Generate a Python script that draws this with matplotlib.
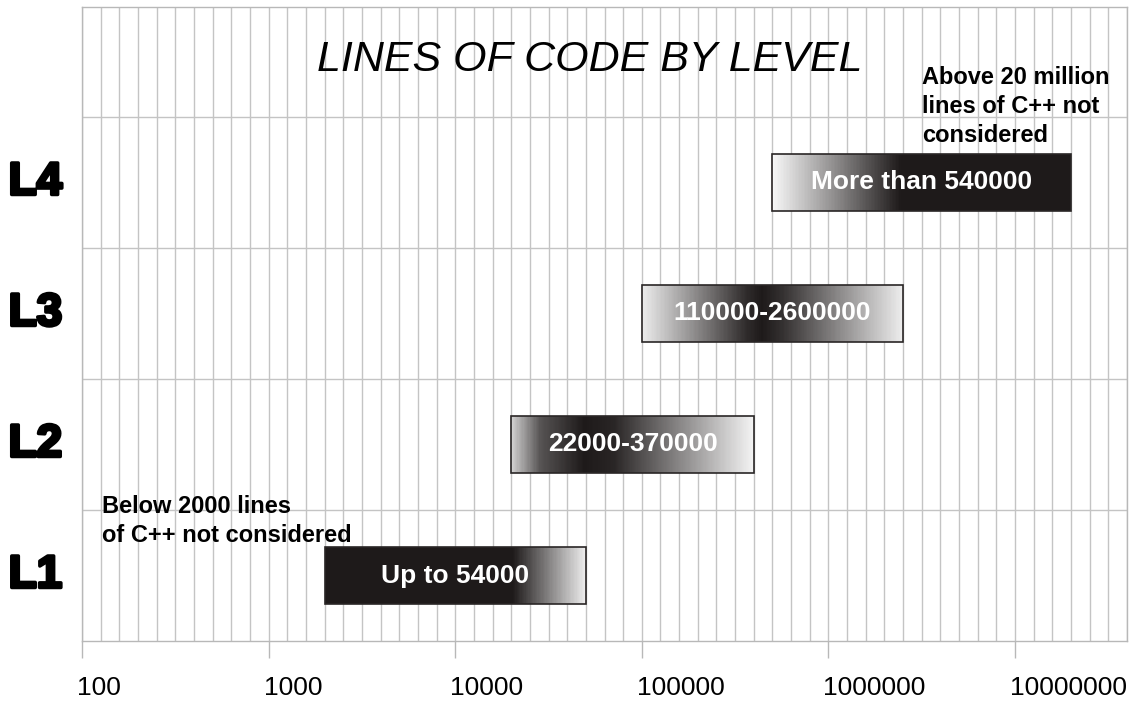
import numpy as np
import matplotlib
matplotlib.use("Agg")
import matplotlib.pyplot as plt
from matplotlib.colors import LinearSegmentedColormap
from matplotlib import transforms
import matplotlib.patheffects as pe

# ---- data ----
levels = ["L1", "L2", "L3", "L4"]
range_start = [2000, 20000, 100000, 500000]
range_end = [50000, 400000, 2500000, 20000000]
bar_labels = ["Up to 54000", "22000-370000", "110000-2600000", "More than 540000"]
tick_values = [100, 1000, 10000, 100000, 1000000, 10000000]
tick_labels = ["100", "1000", "10000", "100000", "1000000", "10000000"]
title = "LINES OF CODE BY LEVEL"
note_low = "Below 2000 lines\nof C++ not considered"
note_high = "Above 20 million\nlines of C++ not\nconsidered"

# gradient profiles (fraction along bar -> lightness 0 dark .. 1 white)
profiles = [
    ([0.0, 0.72, 1.0], [0.0, 0.0, 0.92]),
    ([0.0, 0.12, 0.30, 0.42, 1.0], [0.80, 0.25, 0.0, 0.05, 0.95]),
    ([0.0, 0.40, 0.46, 0.54, 1.0], [0.92, 0.08, 0.0, 0.10, 0.92]),
    ([0.0, 0.43, 1.0], [0.97, 0.0, 0.0]),
]

W, H = 1138, 702
fig = plt.figure(figsize=(W / 100, H / 100), dpi=100)
ax = fig.add_axes([82 / W, (H - 641) / H, (1127 - 82) / W, (641 - 7) / H])
ax.set_xscale("log")
ax.set_xlim(10 ** 2, 10 ** 7.6)
ax.set_ylim(0, 4 + 110 / 131)

grid_c = "#c4c4c4"
ax.set_xticks(tick_values)
ax.set_xticks(10 ** (2 + np.arange(0, 57) / 10), minor=True)
ax.set_xticklabels(tick_labels)
ax.tick_params(axis="x", which="major", length=12.5, width=1, color="#b8b8b8",
               labelsize=19, pad=13)
ax.tick_params(axis="x", which="minor", length=0, labelbottom=False)
ax.grid(True, which="both", axis="x", color=grid_c, linewidth=1)
ax.set_yticks([1, 2, 3, 4])
ax.set_yticklabels([])
ax.tick_params(axis="y", length=0)
ax.grid(True, which="major", axis="y", color=grid_c, linewidth=1)
ax.set_axisbelow(True)
for sp in ax.spines.values():
    sp.set_color("#b8b8b8")
    sp.set_linewidth(1)

offset = transforms.ScaledTranslation(-5 / 100, 0, fig.dpi_scale_trans)
for lab in ax.get_xticklabels():
    lab.set_horizontalalignment("left")
    lab.set_fontfamily("Liberation Sans")
    lab.set_transform(lab.get_transform() + offset)

cmap = LinearSegmentedColormap.from_list("g", ["#1e1a1a", "#ffffff"])
bar_h = 57 / 131
N = 200
centers = np.arange(len(levels)) + 0.5
for i, (s, e) in enumerate(zip(range_start, range_end)):
    xe = np.logspace(np.log10(s), np.log10(e), N + 1)
    frac = (np.arange(N) + 0.5) / N
    fx, fv = profiles[i]
    vals = np.interp(frac, fx, fv)[None, :]
    ye = [centers[i] - bar_h / 2, centers[i] + bar_h / 2]
    ax.pcolormesh(xe, ye, vals, cmap=cmap, vmin=0, vmax=1, shading="flat",
                  zorder=2, edgecolors="none")
ax.barh(centers, np.array(range_end) - np.array(range_start), left=range_start,
        height=bar_h, fill=False, edgecolor="#2a2626", linewidth=1.2, zorder=3)
for i, (s, e) in enumerate(zip(range_start, range_end)):
    xm = np.sqrt(s * e)
    ax.text(xm, centers[i], bar_labels[i], ha="center", va="center", color="white",
            fontsize=19, fontweight="bold", family="Liberation Sans", zorder=4)

# level labels
bt = transforms.blended_transform_factory(fig.transFigure, ax.transData)
for i, lv in enumerate(levels):
    ax.text(35.5 / W, centers[i], lv, transform=bt, ha="center", va="center",
            fontsize=33, fontweight="bold", family="Liberation Sans", clip_on=False,
            path_effects=[pe.withStroke(linewidth=2.5, foreground="black")])

fig.text(590 / W, 1 - 60 / H, title, ha="center", va="center", fontsize=31,
         style="italic", family="Liberation Sans")
fig.text(102 / W, 1 - 495 / H, note_low, ha="left", va="top", fontsize=17,
         fontweight="bold", family="Liberation Sans", linespacing=1.32)
fig.text(922 / W, 1 - 66 / H, note_high, ha="left", va="top", fontsize=17,
         fontweight="bold", family="Liberation Sans", linespacing=1.32)

fig.savefig("out.png", dpi=100)
